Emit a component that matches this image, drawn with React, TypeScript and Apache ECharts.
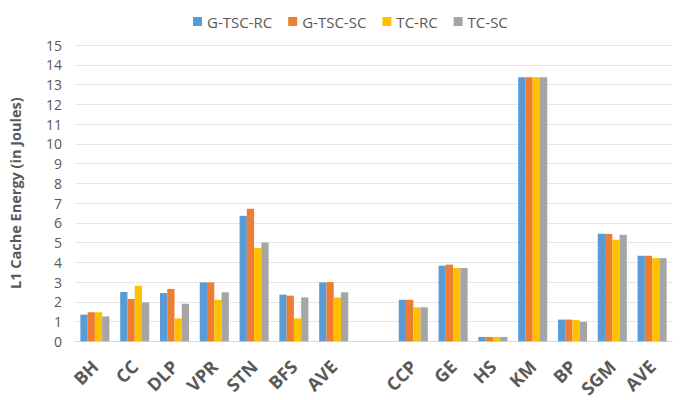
import React, { useEffect, useRef } from "react";
import * as echarts from "echarts";

const categories = ["BH", "CC", "DLP", "VPR", "STN", "BFS", "AVE", "", "CCP", "GE", "HS", "KM", "BP", "SGM", "AVE "];
const seriesNames = ["G-TSC-RC", "G-TSC-SC", "TC-RC", "TC-SC"];
const gTscRc = [1.35, 2.49, 2.44, 2.98, 6.35, 2.36, 2.98, null, 2.1, 3.83, 0.22, 13.37, 1.1, 5.44, 4.33];
const gTscSc = [1.47, 2.14, 2.65, 2.98, 6.71, 2.31, 3.0, null, 2.1, 3.88, 0.22, 13.37, 1.1, 5.43, 4.33];
const tcRc = [1.47, 2.81, 1.16, 2.1, 4.72, 1.16, 2.22, null, 1.72, 3.71, 0.22, 13.37, 1.08, 5.14, 4.21];
const tcSc = [1.26, 1.97, 1.9, 2.48, 5.0, 2.22, 2.48, null, 1.72, 3.71, 0.22, 13.37, 0.98, 5.39, 4.21];
const colors = ["#5B9BD5", "#ED7D31", "#FFC000", "#A5A5A5"];

export default function App() {
  const ref = useRef<HTMLDivElement>(null);
  useEffect(() => {
    if (!ref.current) return;
    const chart = echarts.init(ref.current, null, { renderer: "svg" });
    const data = [gTscRc, gTscSc, tcRc, tcSc];
    chart.setOption({
      animation: false,
      color: colors,
      textStyle: { fontFamily: "Open Sans" },
      legend: {
        top: 9,
        left: 188,
        itemWidth: 9,
        itemHeight: 9,
        itemGap: 16,
        icon: "rect",
        textStyle: { color: "#595959", fontSize: 15 },
        data: seriesNames,
      },
      grid: { left: 75, right: 10, top: 45, bottom: 58 },
      xAxis: {
        type: "category",
        data: categories,
        axisLine: { lineStyle: { color: "#D9D9D9" } },
        axisTick: { show: false },
        axisLabel: {
          rotate: 45,
          interval: 0,
          color: "#595959",
          fontSize: 18,
          fontWeight: "bold",
          margin: 22,
          formatter: (v: string) => v.trim(),
        },
      },
      yAxis: {
        type: "value",
        min: 0,
        max: 15,
        interval: 1,
        name: "L1 Cache Energy (in Joules)",
        nameLocation: "middle",
        nameGap: 52,
        nameTextStyle: { color: "#595959", fontSize: 14.5, fontWeight: "bold" },
        axisLine: { show: false },
        axisTick: { show: false },
        axisLabel: { color: "#595959", fontSize: 14, margin: 13 },
        splitLine: { lineStyle: { color: "#E6E6E6" } },
      },
      series: seriesNames.map((name, i) => ({
        name,
        type: "bar",
        data: data[i],
        barGap: "0%",
        barCategoryGap: "27%",
        itemStyle: { color: colors[i] },
      })),
    });
    return () => chart.dispose();
  }, []);
  return <div ref={ref} style={{ width: 682, height: 400, position: "absolute", left: 0, top: 0 }} />;
}
